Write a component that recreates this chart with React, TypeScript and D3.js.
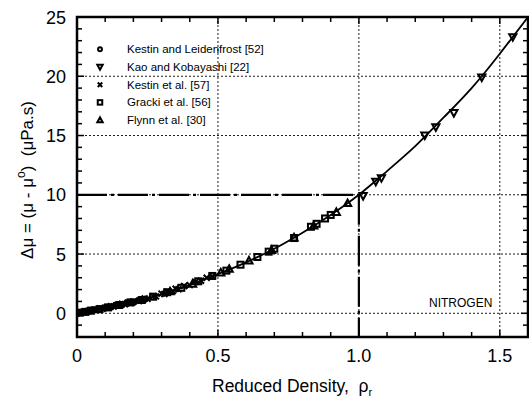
import React from "react";
import * as d3 from "d3";

// Fitted correlation curve (reduced density, excess viscosity)
const curveRho = [0, 0.1, 0.2, 0.3, 0.4, 0.5, 0.6, 0.7, 0.8, 0.9, 1.0, 1.1, 1.2, 1.3, 1.4, 1.5, 1.6];
const curveMu = [0.0, 0.45, 0.95, 1.6, 2.4, 3.3, 4.3, 5.45, 6.8, 8.3, 10.0, 12.0, 14.1, 16.5, 19.0, 21.9, 25.0];

// Kestin and Leidenfrost [52]
const klRho = [0.005, 0.01, 0.02, 0.03, 0.04, 0.05, 0.06, 0.08, 0.1, 0.12, 0.14, 0.16, 0.18, 0.2, 0.22, 0.24];
const klMu = [0.02, 0.05, 0.1, 0.12, 0.2, 0.21, 0.29, 0.35, 0.47, 0.53, 0.68, 0.74, 0.88, 0.94, 1.1, 1.18];

// Kao and Kobayashi [22]
const kkRho = [1.015, 1.06, 1.08, 1.234, 1.273, 1.337, 1.436, 1.546];
const kkMu = [9.9, 11.1, 11.4, 15.0, 15.7, 16.9, 19.9, 23.3];

// Kestin et al. [57]
const keRho = [0.02, 0.03, 0.04, 0.05, 0.06, 0.07, 0.08, 0.09, 0.1, 0.11, 0.12, 0.13, 0.14, 0.15, 0.16, 0.17, 0.18, 0.19, 0.2, 0.22, 0.24, 0.25, 0.27, 0.28, 0.3, 0.31, 0.32, 0.34, 0.35, 0.36, 0.38, 0.4, 0.42, 0.44, 0.46, 0.48];
const keMu = [0.1, 0.11, 0.2, 0.2, 0.3, 0.29, 0.4, 0.38, 0.48, 0.47, 0.59, 0.57, 0.69, 0.67, 0.8, 0.77, 0.9, 0.87, 1.0, 1.04, 1.25, 1.22, 1.45, 1.43, 1.66, 1.63, 1.82, 1.88, 2.07, 2.03, 2.3, 2.38, 2.65, 2.74, 3.0, 3.12];

// Gracki et al. [56]
const grRho = [0.01, 0.03, 0.05, 0.08, 0.11, 0.15, 0.19, 0.23, 0.27, 0.32, 0.37, 0.43, 0.48, 0.53, 0.58, 0.64, 0.68, 0.7, 0.77, 0.83, 0.85, 0.88, 0.9];
const grMu = [0.05, 0.12, 0.23, 0.35, 0.5, 0.7, 0.92, 1.12, 1.4, 1.78, 2.15, 2.7, 3.15, 3.6, 4.1, 4.75, 5.2, 5.45, 6.35, 7.3, 7.55, 8.0, 8.3];

// Flynn et al. [30]
const flRho = [0.33, 0.41, 0.51, 0.54, 0.61, 0.69, 0.77, 0.84, 0.92, 0.96];
const flMu = [1.85, 2.5, 3.45, 3.75, 4.45, 5.35, 6.4, 7.4, 8.55, 9.3];

const legendLabels = [
  "Kestin and Leidenfrost [52]",
  "Kao and Kobayashi [22]",
  "Kestin et al. [57]",
  "Gracki et al. [56]",
  "Flynn et al. [30]",
];
const xTicks = [0, 0.5, 1.0, 1.5];
const xTickLabels = ["0", "0.5", "1.0", "1.5"];
const yTicks = [0, 5, 10, 15, 20, 25];
const critRho = 1.0;
const critMu = 10;

type Sym = "circle" | "tridown" | "cross" | "square" | "triup";

function Marker({ sym, x, y, s = 1, sw = 2 }: { sym: Sym; x: number; y: number; s?: number; sw?: number }) {
  if (sym === "circle")
    return <circle cx={x} cy={y} r={2.6 * s} fill="none" stroke="#000" strokeWidth={sw} />;
  if (sym === "square")
    return <rect x={x - 3 * s} y={y - 3 * s} width={6 * s} height={6 * s} fill="none" stroke="#000" strokeWidth={sw} />;
  if (sym === "cross")
    return (
      <path
        d={`M${x - 3 * s},${y - 3 * s}L${x + 3 * s},${y + 3 * s}M${x - 3 * s},${y + 3 * s}L${x + 3 * s},${y - 3 * s}`}
        stroke="#000"
        strokeWidth={sw}
      />
    );
  if (sym === "tridown")
    return (
      <path d={`M${x - 3.6 * s},${y - 3 * s}L${x + 3.6 * s},${y - 3 * s}L${x},${y + 3.6 * s}Z`} fill="none" stroke="#000" strokeWidth={sw} />
    );
  return (
    <path d={`M${x - 3.6 * s},${y + 3 * s}L${x + 3.6 * s},${y + 3 * s}L${x},${y - 3.6 * s}Z`} fill="none" stroke="#000" strokeWidth={sw} />
  );
}

export default function App() {
  const W = 529, H = 400;
  const x0 = 77, x1 = 528, y0 = 17, y1 = 337;
  const x = d3.scaleLinear().domain([0, 1.6]).range([x0, x1]);
  const y = d3.scaleLinear().domain([-2, 25]).range([y1, y0]);
  const font = "'Liberation Sans', Arial, Helvetica, sans-serif";

  const line = d3
    .line<number>()
    .x((_, i) => x(curveRho[i]))
    .y((d) => y(d))
    .curve(d3.curveNatural);

  const series: { sym: Sym; rho: number[]; mu: number[] }[] = [
    { sym: "circle", rho: klRho, mu: klMu },
    { sym: "tridown", rho: kkRho, mu: kkMu },
    { sym: "cross", rho: keRho, mu: keMu },
    { sym: "square", rho: grRho, mu: grMu },
    { sym: "triup", rho: flRho, mu: flMu },
  ];

  const xMinor = d3.range(0, 1.61, 0.1);
  const yMinor = d3.range(-2, 25.01, 1);

  return (
    <svg width={W} height={H} style={{ position: "absolute", left: 0, top: 0, background: "#fff" }} fontFamily={font}>
      <defs>
        <clipPath id="plot">
          <rect x={x0} y={y0} width={x1 - x0} height={y1 - y0} />
        </clipPath>
      </defs>
      {/* grid */}
      <g stroke="#000" strokeWidth={0.9} strokeDasharray="2,2">
        {yTicks.filter((t) => t < 25).map((t) => (
          <line key={"gy" + t} x1={x0} x2={x1} y1={y(t)} y2={y(t)} />
        ))}
        {xTicks.filter((t) => t > 0).map((t) => (
          <line key={"gx" + t} x1={x(t)} x2={x(t)} y1={y0} y2={y1} />
        ))}
      </g>
      {/* critical point dash-dot lines */}
      <g stroke="#000" strokeWidth={2.2} strokeDasharray="30,4,3,4" fill="none">
        <line x1={x(0)} x2={x(critRho)} y1={y(critMu)} y2={y(critMu)} />
        <line x1={x(critRho)} x2={x(critRho)} y1={y(critMu)} y2={y1} />
      </g>
      {/* curve */}
      <path d={line(curveMu) || ""} fill="none" stroke="#000" strokeWidth={1.8} clipPath="url(#plot)" />
      {/* data */}
      <g clipPath="url(#plot)">
        {series.map((s) =>
          s.rho.map((r, i) => <Marker key={s.sym + i} sym={s.sym} x={x(r)} y={y(s.mu[i])} />)
        )}
      </g>
      {/* ticks */}
      <g stroke="#000" strokeWidth={1.5}>
        {xMinor.map((t, i) => {
          const L = i % 5 === 0 ? 7 : 5;
          return (
            <g key={"xt" + i}>
              <line x1={x(t)} x2={x(t)} y1={y1} y2={y1 - L} />
              <line x1={x(t)} x2={x(t)} y1={y0} y2={y0 + L} />
            </g>
          );
        })}
        {yMinor.map((t, i) => {
          const L = t % 5 === 0 ? 7 : 5;
          return (
            <g key={"yt" + i}>
              <line x1={x0} x2={x0 + L} y1={y(t)} y2={y(t)} />
              <line x1={x1} x2={x1 - L} y1={y(t)} y2={y(t)} />
            </g>
          );
        })}
      </g>
      {/* frame */}
      <rect x={x0} y={y0} width={x1 - x0} height={y1 - y0} fill="none" stroke="#000" strokeWidth={2.5} />
      {/* tick labels */}
      <g fontSize={18} fill="#000">
        {xTicks.map((t, i) => (
          <text key={"xl" + i} x={x(t)} y={362} textAnchor="middle">
            {xTickLabels[i]}
          </text>
        ))}
        {yTicks.map((t) => (
          <text key={"yl" + t} x={66} y={y(t) + 6.5} textAnchor="end">
            {t}
          </text>
        ))}
      </g>
      {/* axis titles */}
      <text x={212} y={392} fontSize={17.5} fill="#000">
        Reduced Density,{"\u00a0\u00a0"}ρ
        <tspan fontSize={11} dy={4}>r</tspan>
      </text>
      <text transform={`translate(33,180) rotate(-90)`} textAnchor="middle" fontSize={17} fill="#000">
        {"Δμ = (μ - μ"}
        <tspan fontSize={12} dy={-8}>o</tspan>
        <tspan dy={8}>{")\u00a0\u00a0(μPa.s)"}</tspan>
      </text>
      {/* legend */}
      <g>
        {legendLabels.map((lab, i) => {
          const ly = 49.3 + i * 17.7;
          return (
            <g key={"lg" + i}>
              <Marker sym={series[i].sym} x={100} y={ly} s={0.75} sw={2} />
              <text x={127} y={ly + 4} fontSize={11.5} fill="#000">
                {lab}
              </text>
            </g>
          );
        })}
      </g>
      <text x={429} y={306.5} fontSize={12} fill="#000">
        NITROGEN
      </text>
    </svg>
  );
}
